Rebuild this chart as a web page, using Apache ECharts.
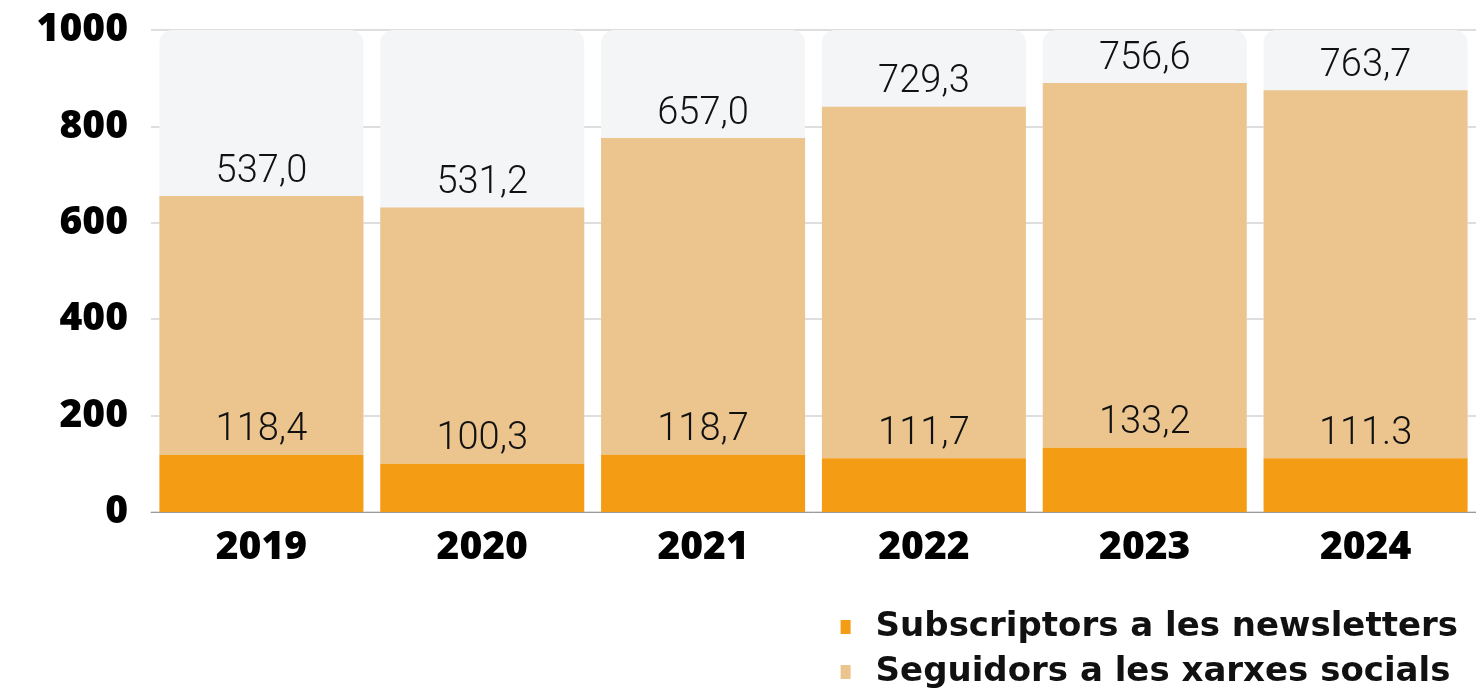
<!DOCTYPE html>
<html>
<head>
<meta charset="utf-8">
<style>
  html, body { margin: 0; padding: 0; background: #ffffff; }
  #chart { width: 1476px; height: 689px; }
</style>
<script src="https://cdn.jsdelivr.net/npm/echarts@6/dist/echarts.min.js"></script>
</head>
<body>
<div id="chart"></div>
<script>
// Audience figures per year (thousands)
const years = ['2019', '2020', '2021', '2022', '2023', '2024'];
const newsletterSubscribers = [118.4, 100.3, 118.7, 111.7, 133.2, 111.3];
const socialFollowers = [537.0, 531.2, 657.0, 729.3, 756.6, 763.7];
// Decimal mark printed on each newsletter label
const newsletterDecimalMarks = [',', ',', ',', ',', ',', '.'];
const yTicks = [0, 200, 400, 600, 800, 1000];

const seriesNames = ['Subscriptors a les newsletters', 'Seguidors a les xarxes socials'];
const darkOrange = '#f49c14';
const lightOrange = '#ebc48e';

function fmt(v, mark) {
  return v.toFixed(1).replace('.', mark || ',');
}

const valueLabel = {
  show: true,
  position: 'top',
  distance: 5,
  fontFamily: 'Roboto',
  fontWeight: 300,
  fontSize: 38,
  color: '#111111'
};

const chart = echarts.init(document.getElementById('chart'), null, { renderer: 'canvas' });
chart.setOption({
  animation: false,
  backgroundColor: '#ffffff',
  grid: { left: 151, right: 0, top: 30, bottom: 177, containLabel: false },
  legend: {
    orient: 'vertical',
    right: 18,
    top: 610,
    padding: 0,
    itemWidth: 10,
    itemHeight: 14,
    itemGap: 11,
    icon: 'rect',
    textStyle: {
      fontFamily: 'DejaVu Sans',
      fontWeight: 'bold',
      fontSize: 34,
      color: '#111111',
      lineHeight: 34,
      padding: [0, 0, 0, 20]
    },
    data: seriesNames
  },
  xAxis: {
    type: 'category',
    data: years,
    axisLine: { show: true, lineStyle: { color: '#9a9a9a', width: 1 } },
    axisTick: { show: false },
    axisLabel: {
      margin: 16,
      fontFamily: 'Open Sans',
      fontWeight: 800,
      fontSize: 39,
      color: '#000000'
    }
  },
  yAxis: {
    type: 'value',
    min: yTicks[0],
    max: yTicks[yTicks.length - 1],
    interval: yTicks[1] - yTicks[0],
    axisLine: { show: false },
    axisTick: { show: false },
    splitLine: { show: true, lineStyle: { color: '#d3d3d3', width: 1.5 } },
    axisLabel: {
      margin: 23,
      fontFamily: 'Open Sans',
      fontWeight: 800,
      fontSize: 39,
      color: '#000000',
      formatter: v => String(v)
    }
  },
  series: [
    {
      name: seriesNames[0],
      type: 'bar',
      stack: 'audience',
      z: 3,
      barWidth: 204,
      data: newsletterSubscribers,
      itemStyle: { color: darkOrange },
      label: Object.assign({}, valueLabel, {
        formatter: p => fmt(p.value, newsletterDecimalMarks[p.dataIndex])
      })
    },
    {
      name: seriesNames[1],
      type: 'bar',
      stack: 'audience',
      z: 2,
      barWidth: 204,
      data: socialFollowers,
      itemStyle: { color: lightOrange },
      showBackground: true,
      backgroundStyle: { color: '#f4f5f7', borderRadius: [13, 13, 0, 0] },
      label: Object.assign({}, valueLabel, {
        formatter: p => fmt(p.value, ',')
      })
    }
  ]
});
</script>
</body>
</html>
